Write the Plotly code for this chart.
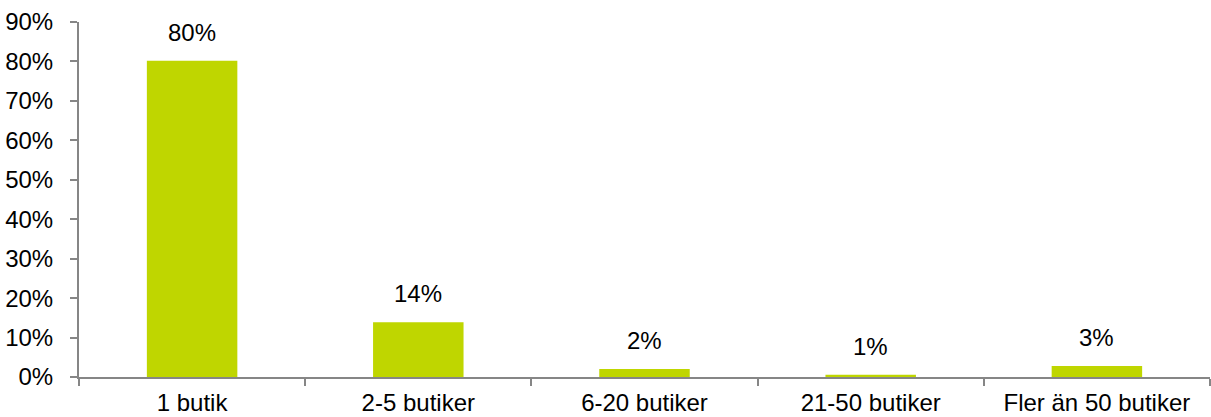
import plotly.graph_objects as go

categories = ["1 butik", "2-5 butiker", "6-20 butiker", "21-50 butiker", "Fler än 50 butiker"]
values = [80.2, 13.9, 2.0, 0.6, 2.8]
labels = ["80%", "14%", "2%", "1%", "3%"]
y_ticks = [0, 10, 20, 30, 40, 50, 60, 70, 80, 90]

BAR = "#BFD600"
AXIS = "#868686"
FONT = "Liberation Sans, Arial, sans-serif"
FS = 24

fig = go.Figure()
fig.add_trace(go.Bar(x=categories, y=values, marker=dict(color=BAR, line=dict(width=0)),
                     width=0.4, hoverinfo="skip"))

for c, v, t in zip(categories, values, labels):
    fig.add_annotation(x=c, y=v, text=t, showarrow=False, yanchor="bottom",
                       yshift=13, font=dict(size=FS, color="#000000", family=FONT))

fig.update_layout(
    width=1211, height=417,
    margin=dict(l=79, r=1, t=22, b=40),
    plot_bgcolor="white", paper_bgcolor="white",
    showlegend=False,
    font=dict(family=FONT, size=FS, color="#000000"),
    xaxis=dict(type="category", range=[-0.5, 4.5], showline=True, linecolor=AXIS, linewidth=2,
               ticks="outside", tickson="boundaries", ticklen=7, tickwidth=2, tickcolor=AXIS,
               showgrid=False, zeroline=False, automargin=False, ticklabelstandoff=3,
               tickfont=dict(size=FS, family=FONT)),
    yaxis=dict(range=[0, 90], tickvals=y_ticks, ticktext=[f"{v}%" for v in y_ticks],
               showline=True, linecolor=AXIS, linewidth=2, ticks="outside", ticklen=7,
               tickwidth=2, tickcolor=AXIS, showgrid=False, zeroline=False, automargin=False,
               ticklabelstandoff=12, tickfont=dict(size=FS, family=FONT)),
)

fig.write_html("out.html", config={"displayModeBar": False},
               post_script="document.body.style.margin='0';document.body.style.overflow='hidden';")
